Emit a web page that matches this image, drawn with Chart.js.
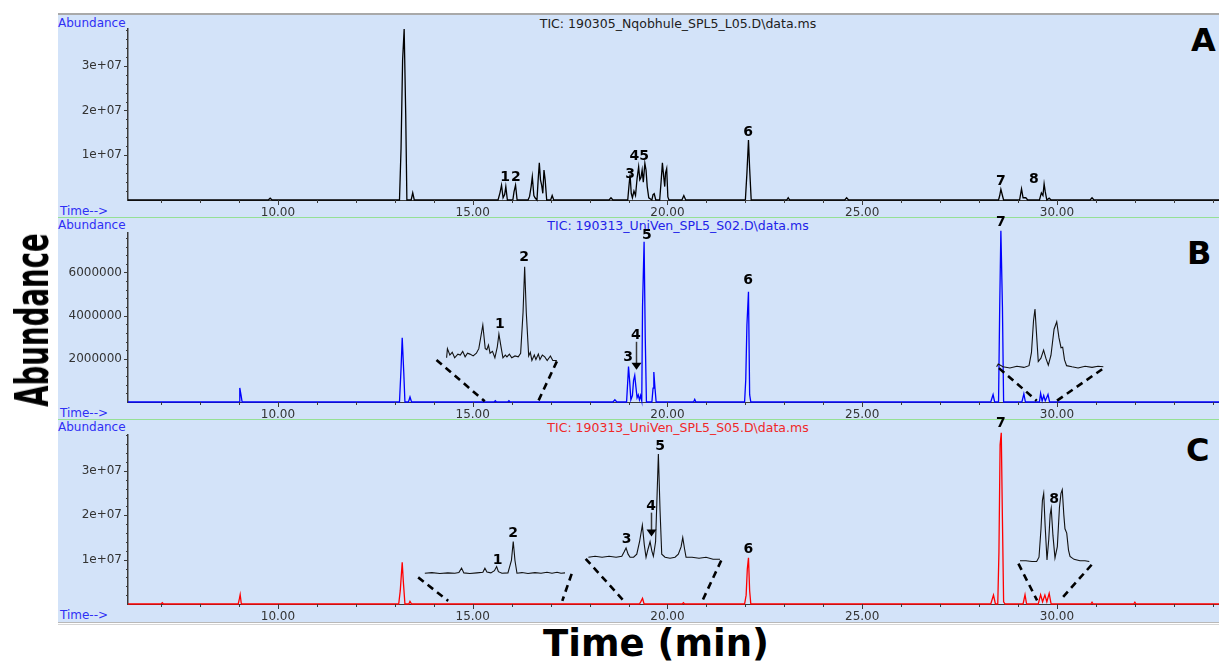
<!DOCTYPE html>
<html>
<head>
<meta charset="utf-8">
<title>TIC chromatograms</title>
<script src="https://cdn.jsdelivr.net/npm/chart.js@4.4.1/dist/chart.umd.min.js"></script>
<style>
  html, body { margin: 0; padding: 0; background: #fff; }
  body { position: relative; width: 1219px; height: 664px; overflow: hidden; font-family: "DejaVu Sans", sans-serif; }
  .panel { position: absolute; left: 58px; width: 1161px; background: #d3e3f9; }
  .panel canvas { position: absolute; left: 0; }
  .sep { position: absolute; left: 0; top: 0; width: 1161px; height: 1px; background: #95e095; }
  .txt { position: absolute; font-size: 12px; line-height: 12px; white-space: nowrap; }
  .blue { color: #2f2ff5; }
  .title { font-size: 12.5px; line-height: 12.5px; left: 620px; transform: translateX(-50%); }
  .letter { position: absolute; font: bold 32px/32px "DejaVu Sans", sans-serif; color: #000; }
  .rule { position: absolute; left: 58px; width: 1161px; }
  #yTitle { position: absolute; left: 32px; top: 320px; font: bold 46px/46px "DejaVu Sans", sans-serif; white-space: nowrap;
            transform: translate(-50%, -50%) rotate(-90deg) scaleX(0.6); }
  #xTitle { position: absolute; left: 656px; top: 625px; font: bold 37px/37px "DejaVu Sans", sans-serif; white-space: nowrap;
            transform: translateX(-50%); }
</style>
</head>
<body>

<div class="rule" style="top:13px;height:2px;background:#a9a9a9"></div>
<div class="rule" style="top:622px;height:1px;background:#b8b8b8"></div>
<div class="rule" style="top:624px;height:1px;background:#d6d6d6"></div>

<div class="panel" id="panelA" style="top:15px;height:202px">
  <div class="txt blue" style="left:0;top:2px">Abundance</div>
  <div class="txt title" style="top:3px;color:#202020">TIC: 190305_Nqobhule_SPL5_L05.D\data.ms</div>
  <div class="txt blue" style="left:2px;top:190px">Time--&gt;</div>
  <div class="letter" style="left:1133px;top:9px">A</div>
  <canvas id="chartA" width="1161" height="202" style="top:0"></canvas>
</div>
<div class="panel" id="panelB" style="top:217px;height:202px">
  <div class="sep"></div>
  <div class="txt blue" style="left:0;top:2px">Abundance</div>
  <div class="txt title" style="top:3px;color:#2222e8">TIC: 190313_UniVen_SPL5_S02.D\data.ms</div>
  <div class="txt blue" style="left:2px;top:190px">Time--&gt;</div>
  <div class="letter" style="left:1129px;top:20px">B</div>
  <canvas id="chartB" width="1161" height="212" style="top:-10px"></canvas>
</div>
<div class="panel" id="panelC" style="top:419px;height:203px">
  <div class="sep"></div>
  <div class="txt blue" style="left:0;top:2px">Abundance</div>
  <div class="txt title" style="top:3px;color:#f02828">TIC: 190313_UniVen_SPL5_S05.D\data.ms</div>
  <div class="txt blue" style="left:2px;top:190px">Time--&gt;</div>
  <div class="letter" style="left:1128px;top:15px">C</div>
  <canvas id="chartC" width="1161" height="213" style="top:-10px"></canvas>
</div>

<div id="yTitle">Abundance</div>
<div id="xTitle">Time (min)</div>

<script>
// retention time axis (min)
const xMin = 6.15, xMax = 34.16;
const xTicks = [7, 8, 9, 10, 11, 12, 13, 14, 15, 16, 17, 18, 19, 20, 21, 22, 23, 24, 25, 26, 27, 28, 29, 30, 31, 32, 33, 34];
const xMajor = [10, 15, 20, 25, 30];

// --- run A: 190305_Nqobhule_SPL5_L05 ---
const timeA = [6.15,
  9.75, 9.8, 9.85,
  13.12, 13.16, 13.2, 13.24, 13.28, 13.31,
  13.42, 13.46, 13.5,
  15.65, 15.7, 15.74, 15.78, 15.82, 15.85, 15.89,
  16.03, 16.06, 16.1, 16.14,
  16.42, 16.46, 16.5, 16.53, 16.57, 16.6, 16.65, 16.68, 16.71, 16.74, 16.77, 16.8, 16.83, 16.86, 16.9,
  17.0, 17.04, 17.08,
  18.5, 18.55, 18.6,
  18.98, 19.01, 19.04, 19.07, 19.1, 19.14, 19.18, 19.22, 19.26, 19.29, 19.32, 19.35, 19.38, 19.42, 19.45, 19.48, 19.52,
  19.6, 19.63, 19.66, 19.7,
  19.8, 19.84, 19.87, 19.9, 19.93, 19.95, 19.98, 20.01, 20.04,
  20.37, 20.42, 20.47,
  22.0, 22.04, 22.08, 22.11, 22.15,
  23.06, 23.1, 23.14,
  24.55, 24.6, 24.65,
  28.5, 28.53, 28.56, 28.6, 28.63,
  29.04, 29.09, 29.13, 29.2, 29.25,
  29.55, 29.6, 29.64, 29.67, 29.7, 29.74, 29.8, 29.85,
  30.85, 30.9, 30.95,
  34.16];
const abundA = [0,
  0, 4e5, 0,
  0, 1.15e7, 3.12e7, 3.82e7, 1.92e7, 0,
  0, 1.6e6, 0,
  0, 1.6e6, 3.3e6, 5e5, 1.2e6, 3.0e6, 0,
  0, 1.8e6, 3.3e6, 0,
  0, 8e5, 3.0e6, 5.2e6, 1.0e6, 5e5, 0, 4.5e6, 8.3e6, 4.5e6, 3.3e6, 1.5e6, 6.7e6, 4.5e6, 0,
  0, 1.0e6, 0,
  0, 5e5, 0,
  0, 3.0e6, 5.7e6, 1.5e6, 5e5, 2.0e6, 1.0e6, 4.8e6, 7.4e6, 4.5e6, 5.0e6, 6.7e6, 4.0e6, 8.2e6, 6.7e6, 3.0e6, 5e5,
  0, 1.2e6, 1.4e6, 0,
  0, 4.5e6, 8.3e6, 5.5e6, 3.0e6, 6.0e6, 7.0e6, 7e5, 0,
  0, 1.0e6, 0,
  0, 6.0e6, 1.34e7, 7.0e6, 0,
  0, 5e5, 0,
  0, 5e5, 0,
  0, 1.0e6, 2.4e6, 1.0e6, 0,
  0, 2.5e6, 5e5, 5e5, 0,
  0, 1.6e6, 1.0e6, 3.6e6, 1.8e6, 0, 4e5, 0,
  0, 5e5, 0,
  0];

// --- run B: 190313_UniVen_SPL5_S02 ---
const timeB = [6.15,
  9.0, 9.02, 9.05, 9.08,
  13.12, 13.16, 13.19, 13.23, 13.26,
  13.35, 13.39, 13.43,
  15.55, 15.58, 15.61,
  15.9, 15.93, 15.96,
  18.6, 18.65, 18.7,
  18.95, 18.98, 19.0, 19.03, 19.06, 19.1, 19.13, 19.16, 19.19, 19.22, 19.25, 19.28, 19.31, 19.34, 19.36, 19.4, 19.43, 19.46,
  19.6, 19.63, 19.65, 19.68, 19.71,
  20.67, 20.7, 20.73,
  21.98, 22.01, 22.04, 22.08, 22.11, 22.14,
  28.3, 28.36, 28.4,
  28.5, 28.53, 28.56, 28.6, 28.63,
  29.1, 29.15, 29.19,
  29.55, 29.58, 29.62, 29.66, 29.7, 29.77, 29.81,
  34.16];
const abundB = [0,
  0, 6.5e5, 3.4e5, 0,
  0, 1.54e6, 2.98e6, 1.37e6, 0,
  0, 2.3e5, 0,
  0, 6e4, 0,
  0, 6e4, 0,
  0, 1e5, 0,
  0, 9.5e5, 1.64e6, 9.5e5, 1e5, 3e5, 1.0e6, 1.23e6, 7e5, 2e5, 3.3e5, 1e5, 3e5, 5e4, 4.42e6, 7.42e6, 2.96e6, 0,
  0, 6.4e5, 1.39e6, 6.4e5, 0,
  0, 1.2e5, 0,
  0, 1.03e6, 3.57e6, 5.11e6, 3.4e5, 0,
  0, 3.4e5, 0,
  0, 4.42e6, 7.93e6, 4.4e6, 0,
  0, 3.8e5, 0,
  0, 4e5, 5e4, 3e5, 5e4, 3.5e5, 0,
  0];

// --- run C: 190313_UniVen_SPL5_S05 ---
const timeC = [6.15,
  7.0, 7.03, 7.06,
  8.98, 9.01, 9.03, 9.06,
  13.1, 13.14, 13.19, 13.22, 13.26,
  13.36, 13.39, 13.43,
  19.28, 19.32, 19.36, 19.4,
  20.38, 20.41, 20.44,
  21.98, 22.02, 22.05, 22.08, 22.11, 22.14,
  28.3, 28.37, 28.42,
  28.48, 28.51, 28.54, 28.57, 28.6, 28.63, 28.67,
  29.13, 29.18, 29.22,
  29.52, 29.58, 29.63, 29.69, 29.74, 29.8, 29.85,
  30.87, 30.9, 30.93,
  31.97, 32.0, 32.03,
  34.16];
const abundC = [0,
  0, 3e5, 0,
  0, 1.2e6, 2.1e6, 0,
  0, 3.0e6, 9.4e6, 4.9e6, 0,
  0, 6e5, 0,
  0, 6e5, 1.3e6, 0,
  0, 3e5, 0,
  0, 2.0e6, 7.9e6, 1.04e7, 3.0e6, 0,
  0, 2.0e6, 0,
  0, 1.16e7, 3.59e7, 3.86e7, 1.9e7, 5e5, 0,
  0, 2.1e6, 0,
  0, 2.1e6, 5e5, 2.0e6, 5e5, 2.4e6, 0,
  0, 4e5, 0,
  0, 4e5, 0,
  0];

// magnified traces: retention time inside the window, intensity relative to the tallest peak
const insetB1Time = [15.31, 15.32, 15.35, 15.38, 15.41, 15.45, 15.48, 15.51, 15.54, 15.57, 15.60, 15.64, 15.68, 15.71, 15.76, 15.79,
  15.81, 15.83, 15.85, 15.88, 15.91, 15.94, 15.96, 15.99, 16.01, 16.04, 16.06, 16.09, 16.12, 16.16, 16.20, 16.23, 16.26, 16.28,
  16.30, 16.33, 16.35, 16.37, 16.40, 16.42, 16.45, 16.47, 16.50, 16.53, 16.56, 16.60, 16.63, 16.68];
const insetB1Level = [0, 0.10, 0.03, 0.06, 0.0, 0.04, 0.03, 0.07, 0.01, 0.05, 0.04, 0.02, 0.05, 0.10, 0.36, 0.10,
  0.09, 0.14, 0.05, 0.07, 0.0, 0.12, 0.26, 0.10, 0.0, 0.03, 0.01, 0.04, 0.0, 0.02, 0.01, 0.05, 0.50, 1.0,
  0.50, 0.02, 0.06, -0.03, 0.03, -0.02, 0.04, -0.02, 0.03, 0.01, -0.03, 0.02, -0.03, -0.03];

const insetB2Time = [29.480, 29.488, 29.511, 29.545, 29.579, 29.613, 29.638, 29.650, 29.660, 29.667, 29.674, 29.683, 29.696, 29.709, 29.720,
  29.732, 29.745, 29.760, 29.773, 29.784, 29.794, 29.802, 29.811, 29.821, 29.847, 29.877, 29.911, 29.945, 29.974, 30.000];
const insetB2Level = [0.0, 0.05, 0.0, -0.02, 0.01, -0.01, 0.02, 0.25, 0.8, 1.0, 0.6, 0.09, 0.15, 0.29, 0.15,
  0.03, 0.2, 0.65, 0.78, 0.5, 0.33, 0.34, 0.12, 0.02, 0.0, -0.02, 0.01, -0.01, 0.01, 0.0];

const insetC1Time = [14.370, 14.517, 14.684, 14.851, 14.998, 15.082, 15.138, 15.186, 15.312, 15.458, 15.584, 15.626, 15.668, 15.751, 15.825, 15.871,
  15.908, 15.982, 16.107, 16.180, 16.218, 16.254, 16.296, 16.400, 16.526, 16.672, 16.798, 16.923, 17.028, 17.133, 17.216, 17.300];
const insetC1Level = [0.0, 0.02, -0.01, 0.01, 0.0, 0.02, 0.16, 0.01, -0.01, 0.01, 0.03, 0.16, 0.04, 0.01, 0.08, 0.21,
  0.05, 0.0, 0.01, 0.4, 1.0, 0.4, 0.0, 0.02, -0.01, 0.02, 0.0, 0.03, 0.0, 0.03, 0.0, 0.01];

const insetC2Time = [18.870, 18.973, 19.081, 19.189, 19.297, 19.385, 19.420, 19.451, 19.482, 19.513, 19.567, 19.616, 19.659, 19.702, 19.732,
  19.759, 19.790, 19.821, 19.849, 19.872, 19.906, 19.929, 19.949, 19.975, 20.001, 20.052, 20.129, 20.206, 20.257, 20.299,
  20.325, 20.353, 20.376, 20.468, 20.576, 20.684, 20.792, 20.900];
const insetC2Level = [0.0, 0.01, 0.0, 0.01, 0.0, 0.01, 0.05, 0.09, 0.03, 0.0, 0.0, 0.03, 0.15, 0.31, 0.12,
  0.0, 0.08, 0.15, 0.06, 0.01, 0.15, 0.6, 1.0, 0.45, 0.03, 0.0, -0.01, 0.0, 0.03, 0.1,
  0.19, 0.08, 0.0, 0.0, -0.01, 0.0, -0.02, -0.02];

const insetC3Time = [29.490, 29.541, 29.592, 29.632, 29.652, 29.669, 29.681, 29.692, 29.704, 29.720, 29.735, 29.747, 29.756, 29.771,
  29.788, 29.808, 29.826, 29.839, 29.850, 29.863, 29.873, 29.888, 29.903, 29.916, 29.950, 30.001, 30.043, 30.080];
const insetC3Level = [0.0, 0.0, -0.01, -0.01, 0.05, 0.45, 0.85, 0.95, 0.5, 0.01, 0.3, 0.65, 0.74, 0.35,
  0.04, 0.2, 0.75, 0.95, 1.0, 0.65, 0.45, 0.39, 0.15, 0.06, 0.02, 0.0, 0.0, -0.01];

// peak numbers
const labelsA = { text: ['1', '2', '3', '4', '5', '6', '7', '8'],
  time: [15.83, 16.11, 19.04, 19.15, 19.40, 22.07, 28.56, 29.41],
  abund: [5.0e6, 5.0e6, 5.8e6, 9.8e6, 9.8e6, 1.52e7, 4.2e6, 4.5e6] };
const labelsB = { text: ['1', '2', '3', '4', '5', '6', '7'],
  time: [15.70, 16.32, 18.99, 19.19, 19.47, 22.07, 28.56],
  abund: [3.62e6, 6.68e6, 2.06e6, 3.11e6, 7.73e6, 5.62e6, 8.3e6] };
const labelsC = { text: ['1', '2', '3', '4', '5', '6', '7', '8'],
  time: [15.64, 16.04, 18.95, 19.58, 19.81, 22.08, 28.56, 29.93],
  abund: [9.8e6, 1.6e7, 1.45e7, 2.2e7, 3.55e7, 1.24e7, 4.08e7, 2.35e7] };

function series(times, values) {
  return times.map((t, i) => ({ x: t, y: values[i] }));
}

// place a magnified trace: window = time range it blows up, span = where it sits on the host axis
function insetSets(ins) {
  const [w0, w1] = ins.win, [h0, h1] = ins.span;
  const pts = ins.time.map((t, i) => ({
    x: h0 + (t - w0) / (w1 - w0) * (h1 - h0),
    y: ins.base + ins.level[i] * ins.height
  }));
  const out = [{ data: pts, borderColor: '#111', borderWidth: 1.1, order: 0 }];
  ins.guides.forEach((top, k) => {
    out.push({ data: [{ x: top[0], y: top[1] }, { x: ins.win[k], y: ins.foot }],
      borderColor: '#000', borderWidth: 2.6, borderDash: [7, 5], order: 0 });
  });
  return out;
}

function decor(cfg) {
  return {
    id: 'decor',
    afterDraw(chart) {
      const { ctx, scales: { x, y } } = chart;
      ctx.save();
      ctx.strokeStyle = '#3a3a3a';
      ctx.lineWidth = 1;
      ctx.beginPath();
      xTicks.forEach(t => {
        const px = Math.round(x.getPixelForValue(t)) + 0.5;
        ctx.moveTo(px, y.bottom);
        ctx.lineTo(px, y.bottom + (xMajor.includes(t) ? 5 : 3));
      });
      for (let v = cfg.yMinor; v < cfg.yMax; v += cfg.yMinor) {
        const py = Math.round(y.getPixelForValue(v)) + 0.5;
        const major = cfg.yTicks.some(m => Math.abs(m - v) < 1);
        ctx.moveTo(x.left, py);
        ctx.lineTo(x.left - (major ? 4 : 2), py);
      }
      ctx.stroke();

      // peak numbers
      ctx.fillStyle = '#000';
      ctx.font = 'bold 14px "DejaVu Sans"';
      ctx.textAlign = 'center';
      ctx.textBaseline = 'middle';
      cfg.labels.text.forEach((s, i) => {
        ctx.fillText(s, x.getPixelForValue(cfg.labels.time[i]), y.getPixelForValue(cfg.labels.abund[i]));
      });

      // arrow pointing at peak 4
      if (cfg.arrow) {
        const ax = Math.round(x.getPixelForValue(cfg.arrow.time)) + 0.5;
        const y0 = y.getPixelForValue(cfg.arrow.from), y1 = y.getPixelForValue(cfg.arrow.to);
        ctx.lineWidth = 1.5;
        ctx.beginPath();
        ctx.moveTo(ax, y0);
        ctx.lineTo(ax, y1 - 6);
        ctx.stroke();
        ctx.beginPath();
        ctx.moveTo(ax - 5, y1 - 7);
        ctx.lineTo(ax + 5, y1 - 7);
        ctx.lineTo(ax, y1);
        ctx.closePath();
        ctx.fill();
      }
      ctx.restore();
    }
  };
}

function buildPanel(canvasId, cfg) {
  const datasets = [{ data: series(cfg.time, cfg.abund), borderColor: cfg.color, borderWidth: 1.3, order: 1 }];
  cfg.insets.forEach(ins => datasets.push(...insetSets(ins)));
  datasets.forEach(d => { d.clip = false; d.pointRadius = 0; d.tension = 0; });

  const tickFont = { family: 'DejaVu Sans', size: 12 };
  new Chart(document.getElementById(canvasId), {
    type: 'line',
    data: { datasets },
    options: {
      responsive: false,
      animation: false,
      events: [],
      layout: { padding: { top: cfg.padTop, left: 0, right: 0, bottom: 0 } },
      plugins: { legend: { display: false }, tooltip: { enabled: false } },
      scales: {
        x: {
          type: 'linear', min: xMin, max: xMax,
          afterBuildTicks: s => { s.ticks = xTicks.map(v => ({ value: v })); },
          afterFit: s => { s.height = cfg.xHeight; },
          ticks: { autoSkip: false, maxRotation: 0, padding: 2, color: '#333', font: tickFont,
                   callback: v => (xMajor.includes(v) ? v.toFixed(2) : '') },
          grid: { drawOnChartArea: false, tickLength: 4, color: 'rgba(0,0,0,0)' },
          border: { color: '#3a3a3a', width: 1 }
        },
        y: {
          min: 0, max: cfg.yMax,
          afterBuildTicks: s => { s.ticks = cfg.yTicks.map(v => ({ value: v })); },
          afterFit: s => { s.width = 70; },
          ticks: { padding: 2, color: '#333', font: tickFont,
                   callback: v => cfg.yLabels[cfg.yTicks.indexOf(v)] },
          grid: { drawOnChartArea: false, tickLength: 4, color: 'rgba(0,0,0,0)' },
          border: { color: '#3a3a3a', width: 1.5 }
        }
      }
    },
    plugins: [decor(cfg)]
  });
}

buildPanel('chartA', {
  time: timeA, abund: abundA, color: '#000000',
  yMax: 3.82e7, yTicks: [1e7, 2e7, 3e7], yLabels: ['1e+07', '2e+07', '3e+07'], yMinor: 2e6,
  padTop: 14, xHeight: 17,
  labels: labelsA, insets: []
});

buildPanel('chartB', {
  time: timeB, abund: abundB, color: '#0000ff',
  yMax: 7.83e6, yTicks: [2e6, 4e6, 6e6], yLabels: ['2000000', '4000000', '6000000'], yMinor: 4e5,
  padTop: 26, xHeight: 17,
  labels: labelsB,
  arrow: { time: 19.19, from: 2.79e6, to: 1.49e6 },
  insets: [
    { time: insetB1Time, level: insetB1Level, win: [15.31, 16.68], span: [14.33, 17.16], base: 2.05e6, height: 4.21e6,
      guides: [[14.07, 1.95e6], [17.16, 1.88e6]], foot: 3e4 },
    { time: insetB2Time, level: insetB2Level, win: [29.48, 30.0], span: [28.45, 31.19], base: 1.63e6, height: 2.68e6,
      guides: [[28.51, 1.57e6], [31.16, 1.52e6]], foot: 6e4 }
  ]
});

buildPanel('chartC', {
  time: timeC, abund: abundC, color: '#ff0000',
  yMax: 3.81e7, yTicks: [1e7, 2e7, 3e7], yLabels: ['1e+07', '2e+07', '3e+07'], yMinor: 2e6,
  padTop: 26, xHeight: 18,
  labels: labelsC,
  arrow: { time: 19.58, from: 2.06e7, to: 1.52e7 },
  insets: [
    { time: insetC1Time, level: insetC1Level, win: [14.37, 17.30], span: [13.77, 17.37], base: 6.94e6, height: 7.16e6,
      guides: [[13.60, 6.0e6], [17.54, 6.8e6]], foot: 7e5 },
    { time: insetC2Time, level: insetC2Level, win: [18.87, 20.90], span: [17.97, 21.35], base: 1.054e7, height: 2.33e7,
      guides: [[17.90, 1.02e7], [21.38, 9.8e6]], foot: 8e5 },
    { time: insetC3Time, level: insetC3Level, win: [29.49, 30.08], span: [29.05, 30.83], base: 9.75e6, height: 1.6e7,
      guides: [[29.01, 9.1e6], [30.89, 8.85e6]], foot: 8e5 }
  ]
});
</script>
</body>
</html>
